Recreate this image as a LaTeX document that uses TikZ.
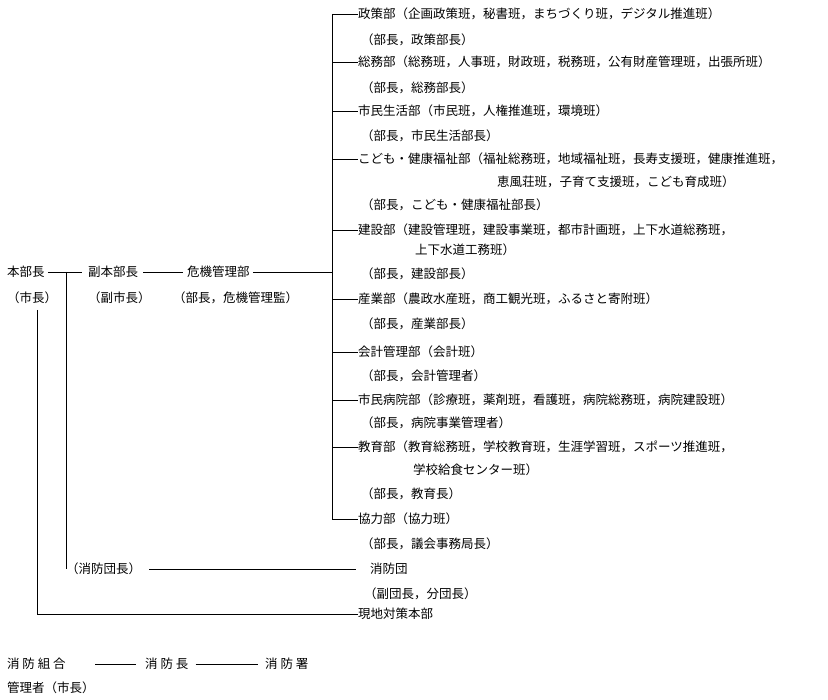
\documentclass[tikz,border=0pt]{standalone}
\usepackage{fontspec}
\setmainfont{Noto Sans CJK JP}
\begin{document}
\begin{tikzpicture}[x=1pt,y=-1pt,
  t/.style={anchor=west,inner sep=0pt,font=\fontsize{12.5}{14}\selectfont},
  ln/.style={draw=black,line width=0.8pt}]
\useasboundingbox (0,0) rectangle (828,700);
\fill[white] (0,0) rectangle (828,700);
% left part
\node[t] (hb) at (7,272) {本部長};
\node[t] (sc) at (7,298) {（市長）};
\node[t] (fh) at (88,272) {副本部長};
\node[t] (fs) at (88,298) {（副市長）};
\node[t] (kk) at (187,272) {危機管理部};
\node[t] (kb) at (173,298) {（部長，危機管理監）};
\draw[ln] (hb.east)+(3,0) -- ([xshift=-6pt]fh.west);
\draw[ln] (fh.east)+(5,0) -- ([xshift=-4pt]kk.west);
\coordinate (bt) at (332,14);
\coordinate (bb) at (332,519);
\draw[ln] (kk.east)+(3,0) -- (332,272);
\draw[ln] (bt) -- (bb);
% departments
\foreach \n/\y/\txt in {
 d1/14/{政策部（企画政策班，秘書班，まちづくり班，デジタル推進班）},
 d2/62/{総務部（総務班，人事班，財政班，税務班，公有財産管理班，出張所班）},
 d3/111/{市民生活部（市民班，人権推進班，環境班）},
 d4/159/{こども・健康福祉部（福祉総務班，地域福祉班，長寿支援班，健康推進班，},
 d5/230/{建設部（建設管理班，建設事業班，都市計画班，上下水道総務班，},
 d6/299/{産業部（農政水産班，商工観光班，ふるさと寄附班）},
 d7/352/{会計管理部（会計班）},
 d8/400/{市民病院部（診療班，薬剤班，看護班，病院総務班，病院建設班）},
 d9/447/{教育部（教育総務班，学校教育班，生涯学習班，スポーツ推進班，},
 d10/519/{協力部（協力班）}}
{
 \node[t] (\n) at (358,\y) {\txt};
 \draw[ln] (332,\y) -- (\n.west);
}
\node[t] (d4b) at (497,182) {恵風荘班，子育て支援班，こども育成班）};
\node[t] (d5b) at (415,250) {上下水道工務班）};
\node[t] (d9b) at (413,470) {学校給食センター班）};
\foreach \n/\y/\txt in {
 b1/40/{（部長，政策部長）},
 b2/88/{（部長，総務部長）},
 b3/136/{（部長，市民生活部長）},
 b4/205/{（部長，こども・健康福祉部長）},
 b5/274/{（部長，建設部長）},
 b6/324/{（部長，産業部長）},
 b7/376/{（部長，会計管理者）},
 b8/423/{（部長，病院事業管理者）},
 b9/494/{（部長，教育長）},
 b10/544/{（部長，議会事務局長）}}
{ \node[t] (\n) at (361,\y) {\txt}; }
% fire brigade
\node[t] (sd) at (66,569) {（消防団長）};
\node[t] (sb) at (370,569) {消防団};
\node[t] (sbb) at (364,594) {（副団長，分団長）};
\draw[ln] (66,272) -- (66,569) -- (sd.west);
\draw[ln] (sd.east)+(8,0) -- ([xshift=-14pt]sb.west);
% local HQ
\node[t] (gc) at (358,614) {現地対策本部};
\draw[ln] (37,310) -- (37,614) -- (gc.west);
% bottom
\node[t] (sk) at (7,664) {消\ 防\ 組\ 合};
\node[t] (sk2) at (7,688) {管理者（市長）};
\node[t] (sh) at (145,664) {消\ 防\ 長};
\node[t] (ss) at (265,664) {消\ 防\ 署};
\draw[ln] (95,664) -- ([xshift=-9pt]sh.west);
\draw[ln] (sh.east)+(7,0) -- ([xshift=-7pt]ss.west);
\end{tikzpicture}
\end{document}
